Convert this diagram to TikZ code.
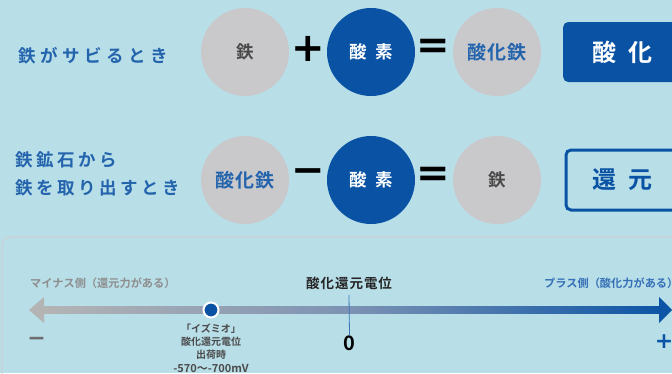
\documentclass[tikz,border=0pt]{standalone}
\usepackage{fontspec}
\setmainfont{Noto Sans CJK JP}[BoldFont={Noto Sans CJK JP Bold}]
\newfontfamily\spfont{Noto Sans CJK JP}[LetterSpace=20,BoldFont={Noto Sans CJK JP Bold}]
\newfontfamily\spwidefont{Noto Sans CJK JP}[LetterSpace=26,BoldFont={Noto Sans CJK JP Bold}]
\newfontfamily\symfont{DejaVu Sans}
\definecolor{bgblue}{HTML}{B8DEE8}
\definecolor{circgray}{HTML}{C9C9CB}
\definecolor{darkblue}{HTML}{0A52A3}
\definecolor{rowblue}{HTML}{2464AD}
\definecolor{txtgray}{HTML}{4A4A4A}
\definecolor{lblgray}{HTML}{8E8E8E}
\definecolor{plusblue}{HTML}{3570B6}
\definecolor{axgray}{HTML}{B4B4B4}
\definecolor{axmid}{HTML}{7C92B3}
\definecolor{axblue}{HTML}{0C55A6}
\definecolor{panelline}{HTML}{D2CFD3}
\begin{document}
\begin{tikzpicture}[x=1pt,y=-1pt,
  graycirc/.style={circle, fill=circgray, minimum size=88pt, inner sep=0pt},
  bluecirc/.style={circle, fill=darkblue, minimum size=88pt, inner sep=0pt, text=white, font=\fontsize{17.5}{20}\selectfont\bfseries},
  rowlabel/.style={anchor=west, text=rowblue, inner sep=0pt, align=left, font=\spfont\fontsize{17.5}{28}\selectfont\bfseries},
  opsym/.style={inner sep=0pt, text=black, font=\symfont\fontsize{40}{40}\selectfont\bfseries},
  ironlbl/.style={text=txtgray, font=\fontsize{17.5}{20}\selectfont\bfseries},
  oxlbl/.style={text=rowblue, font=\fontsize{19}{20}\selectfont\bfseries},
  resultbox/.style={rounded corners=5pt, minimum width=150pt, minimum height=60pt, anchor=west, inner sep=0pt},
  boxtext/.style={inner sep=0pt, font=\fontsize{24}{26}\selectfont\bfseries},
  smalllbl/.style={inner sep=0pt, font=\fontsize{11.2}{13}\selectfont\bfseries},
  annot/.style={inner sep=0pt, text=txtgray, align=center, font=\fontsize{10}{13.3}\selectfont\bfseries}
]
\useasboundingbox (0,0) rectangle (672,373);
\fill[bgblue] (0,0) rectangle (672,373);

% ---- row 1 ----
\node[rowlabel, font=\spwidefont\fontsize{17.5}{28}\selectfont\bfseries] (r1) at (18,56) {鉄がサビるとき};
\node[graycirc] (c11) at (245,52) {};
\node[ironlbl] at (c11) {鉄};
\node[opsym] (p1) at (308.5,49) {+};
\node[bluecirc] (c12) at (371,52) {酸\kern9pt素};
\node[opsym] (e1) at (433.5,49) {=};
\node[graycirc] (c13) at (497,52) {};
\node[oxlbl] at (c13) {酸\kern1pt化\kern1pt鉄};
\node[resultbox, fill=darkblue] (b1) at (563,52) {};
\node[boxtext, text=white] (b1t) at (622.5,52) {酸\kern12pt化};

% ---- row 2 ----
\node[rowlabel] (r2) at (15,174) {鉄鉱石から\\鉄を取り出すとき};
\node[graycirc] (c21) at (245,180) {};
\node[oxlbl] at (c21) {酸\kern1pt化\kern1pt鉄};
\node[opsym] (m2) at (308.5,176.5) {−};
\node[bluecirc] (c22) at (371,180) {酸\kern9pt素};
\node[opsym] (e2) at (433.5,176.5) {=};
\node[graycirc] (c23) at (497,180) {};
\node[ironlbl] at (c23) {鉄};
\node[resultbox, draw=darkblue, line width=3pt] (b2) at (564.5,180) {};
\node[boxtext, text=darkblue] (b2t) at (622.5,180) {還\kern12pt元};

% ---- lower panel ----
\draw[panelline, line width=1pt, rounded corners=8pt] (2,400) -- (2,237) -- (700,237);

\node[smalllbl, text=lblgray, anchor=west] (minuslbl) at (30,283) {マイナス側（還元力がある）};
\node[smalllbl, text=plusblue, anchor=west] (pluslbl) at (544,283) {プラス側（酸化力がある）};
\node[inner sep=0pt, text=black!85, font=\fontsize{13.5}{15}\selectfont\bfseries] (title) at (349,283) {酸\kern1pt化\kern1pt還\kern1pt元\kern1pt電\kern1pt位};

\coordinate (axL) at (42,310);
\coordinate (axR) at (661,310);
\shade[left color=axgray, right color=axblue, middle color=axmid] ([yshift=3.5pt]axL) rectangle ([yshift=-3.5pt]axR);
\fill[axgray] (29,310) -- (44,297) -- (44,323) -- cycle;
\fill[axblue] (672,310) -- (659,297) -- (659,323) -- cycle;

\node[circle, fill=darkblue, draw=white, line width=2pt, minimum size=15pt, inner sep=0pt] (dot) at (211,310) {};
\node[annot, anchor=north] (izumio) at (211,323.5) {「イズミオ」\\酸化還元電位\\出荷時\\{\fontsize{11}{13.3}\selectfont -570～-700mV}};

\node[inner sep=0pt, text=black, font=\fontsize{20}{20}\selectfont\bfseries] (zero) at (349.5,343) {0};
\coordinate (tick) at (349,295);
\draw[axblue!80, line width=0.8pt] (tick) -- (zero.north);

\node[inner sep=0pt, text=txtgray!80, font=\symfont\fontsize{22}{22}\selectfont\bfseries] (minus) at (36.5,341) {−};
\node[inner sep=0pt, text=axblue, font=\symfont\fontsize{22}{22}\selectfont\bfseries] (plus) at (664,342) {+};
\end{tikzpicture}
\end{document}
